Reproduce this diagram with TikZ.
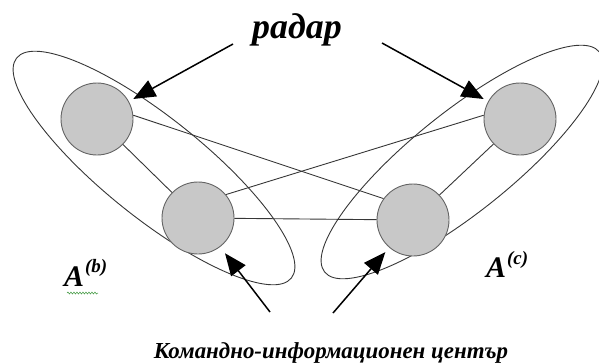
\documentclass[tikz,border=0pt]{standalone}
\usepackage{fontspec}
\setmainfont{Liberation Serif}
\usetikzlibrary{shapes.geometric,arrows.meta,decorations.pathmorphing}
\definecolor{circfill}{RGB}{200,200,200}
\definecolor{circedge}{RGB}{100,100,100}
\definecolor{linecol}{RGB}{55,55,55}
\definecolor{wavy}{RGB}{60,150,60}
\begin{document}
\begin{tikzpicture}[x=1bp,y=-1bp,
  vert/.style={circle,draw=circedge,fill=circfill,line width=0.9bp,minimum size=72bp,inner sep=0pt},
  group/.style={ellipse,draw=linecol,line width=0.9bp,inner sep=0pt,minimum width=352bp,minimum height=100bp},
  link/.style={draw=linecol,line width=0.9bp},
  arr/.style={draw=black,line width=1.5bp,-{Triangle[length=22bp,width=18bp]}},
  lbl/.style={font=\bfseries\itshape,inner sep=0pt}]
\useasboundingbox (0,0) rectangle (599,362);
% groups
\node[group,rotate=-38.7] (Eb) at (154,168) {};
\node[group,rotate=38.7] (Ec) at (462,162) {};
% vertices
\node[vert] (C1) at (97,119) {};
\node[vert] (C2) at (198,218) {};
\node[vert] (C3) at (413,220) {};
\node[vert] (C4) at (520,119) {};
% links
\draw[link] (C1) -- (C2);
\draw[link] (C1.6) -- (C3.144);
\draw[link] (C2.40) -- (C4.174);
\draw[link] (C2) -- (C3);
\draw[link] (C3) -- (C4);
% labels
\node[lbl,anchor=base] (radar) at (297,38) {\fontsize{36}{40}\selectfont радар};
\node[lbl,anchor=base] (kic) at (331,358) {\fontsize{23}{26}\selectfont Командно-информационен център};
\node[lbl,anchor=base west] (Ab) at (64,286) {\fontsize{30}{32}\selectfont A\kern1bp\raisebox{14bp}{\fontsize{19}{21}\selectfont (b)}};
\node[lbl,anchor=base west] (Ac) at (486,277) {\fontsize{30}{32}\selectfont A\kern1bp\raisebox{13bp}{\fontsize{19}{21}\selectfont (c)}};
\draw[wavy,line width=0.5bp,decorate,decoration={snake,amplitude=1bp,segment length=3bp}] (Ab.base west) ++(3,7) coordinate (w1) -- ++(31,0) coordinate (w2);
% arrows
\coordinate (r1) at (233,44);
\coordinate (r2) at (382,43);
\coordinate (k1) at (270,312);
\coordinate (k2) at (333,313);
\draw[arr,shorten >=5bp] (r1) -- (C1);
\draw[arr,shorten >=5bp] (r2) -- (C4);
\draw[arr,shorten >=8bp] (k1) -- (C2);
\draw[arr,shorten >=6bp] (k2) -- (C3);
\end{tikzpicture}
\end{document}
